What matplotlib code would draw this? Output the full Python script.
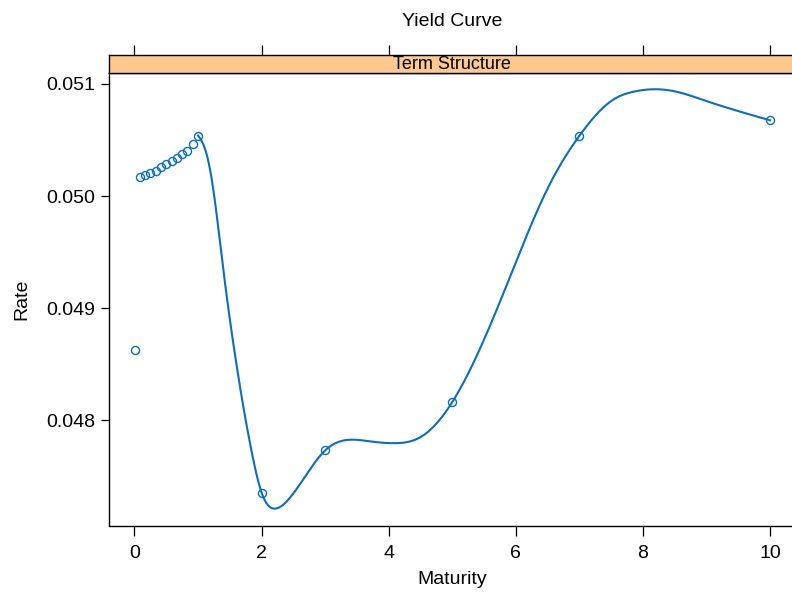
import numpy as np
import matplotlib
matplotlib.use("Agg")
import matplotlib.pyplot as plt

plt.rcParams['font.family'] = ['Liberation Sans', 'DejaVu Sans']

# Observed term structure (maturity in years, zero rate)
maturity = [0.0027, 1/12, 2/12, 3/12, 4/12, 5/12, 6/12, 7/12, 8/12, 9/12,
            10/12, 11/12, 1.0, 2.0, 3.0, 5.0, 7.0, 10.0]
rate = [0.048625, 0.050167, 0.050186, 0.050204, 0.050224, 0.050262,
        0.050290, 0.050312, 0.050340, 0.050372, 0.050405, 0.050462,
        0.050540, 0.047357, 0.047732, 0.048163, 0.050538, 0.050676]

# Fitted curve evaluated at selected maturities
curve_maturity = [1.00, 1.05, 1.20, 1.40, 1.62, 1.85, 2.00, 2.22, 2.45,
                  3.00, 3.40, 3.71, 4.08, 4.50, 5.00, 5.76, 6.12, 6.54,
                  7.00, 7.54, 7.85, 8.22, 8.53, 8.95, 10.00]
curve_rate = [0.050540, 0.050500, 0.050205, 0.049339, 0.048446, 0.047705,
              0.047357, 0.047214, 0.047313, 0.047732, 0.047828, 0.047813,
              0.047797, 0.047851, 0.048163, 0.049071, 0.049578, 0.050113,
              0.050538, 0.050863, 0.050931, 0.050953, 0.050931, 0.050857,
              0.050676]

x_ticks = [0, 2, 4, 6, 8, 10]
y_ticks = [0.048, 0.049, 0.050, 0.051]
y_tick_labels = ["0.048", "0.049", "0.050", "0.051"]


def natural_spline(xk, yk, xs):
    xk = np.asarray(xk, float)
    yk = np.asarray(yk, float)
    n = len(xk)
    h = np.diff(xk)
    A = np.zeros((n, n))
    b = np.zeros(n)
    A[0, 0] = A[-1, -1] = 1.0
    for i in range(1, n - 1):
        A[i, i - 1] = h[i - 1]
        A[i, i] = 2 * (h[i - 1] + h[i])
        A[i, i + 1] = h[i]
        b[i] = 3 * ((yk[i + 1] - yk[i]) / h[i] - (yk[i] - yk[i - 1]) / h[i - 1])
    c = np.linalg.solve(A, b)
    idx = np.clip(np.searchsorted(xk, xs) - 1, 0, n - 2)
    dx = xs - xk[idx]
    hi = h[idx]
    bb = (yk[idx + 1] - yk[idx]) / hi - hi * (2 * c[idx] + c[idx + 1]) / 3
    dd = (c[idx + 1] - c[idx]) / (3 * hi)
    return yk[idx] + bb * dx + c[idx] * dx ** 2 + dd * dx ** 3


W, H = 792, 592
fig = plt.figure(figsize=(W / 100, H / 100), dpi=100)

left, right = 109, 795.5
panel_top, panel_bottom = 73, 525.5
strip_top = 55

ax = fig.add_axes([left / W, 1 - panel_bottom / H,
                   (right - left) / W, (panel_bottom - panel_top) / H])
strip = fig.add_axes([left / W, 1 - panel_top / H,
                      (right - left) / W, (panel_top - strip_top) / H])

blue = '#0a6fbf'
xs = np.linspace(curve_maturity[0], curve_maturity[-1], 800)
ax.plot(xs, natural_spline(curve_maturity, curve_rate, xs), color=blue, lw=1.5)
ax.plot(maturity, rate, 'o', mfc='none', mec=blue, ms=5.8, mew=1.0)

xlim = (-0.4, 10.4)
ax.set_xlim(*xlim)
ax.set_ylim(0.047063, 0.051098)
ax.set_xticks(x_ticks)
ax.set_xticklabels([str(t) for t in x_ticks])
ax.set_yticks(y_ticks)
ax.set_yticklabels(y_tick_labels)
ax.tick_params(axis='both', direction='out', labelsize=14, width=0.9, color='black')
ax.tick_params(axis='x', length=7, pad=7)
ax.tick_params(axis='y', length=6, pad=4)
ax.tick_params(top=False, right=False)
for s in ax.spines.values():
    s.set_linewidth(1.0)

strip.set_facecolor('#fdc98f')
strip.set_xlim(*xlim)
strip.set_ylim(0, 1)
strip.set_yticks([])
strip.set_xticks(x_ticks)
strip.tick_params(axis='x', bottom=False, top=True, labelbottom=False,
                  labeltop=False, direction='out', length=7.5, width=0.9)
for s in strip.spines.values():
    s.set_linewidth(1.0)
strip.text(0.5, 0.45, 'Term Structure', transform=strip.transAxes,
           ha='center', va='center', fontsize=13)

cx = (left + right) / 2 / W
fig.text(cx, 1 - 22 / H, 'Yield Curve', ha='center', va='center', fontsize=14)
fig.text(cx, 1 - 580 / H, 'Maturity', ha='center', va='center', fontsize=14)
fig.text(22 / W, 1 - (panel_top + panel_bottom) / 2 / H, 'Rate', ha='center',
         va='center', rotation=90, fontsize=14)

fig.savefig('out.png', dpi=100)
